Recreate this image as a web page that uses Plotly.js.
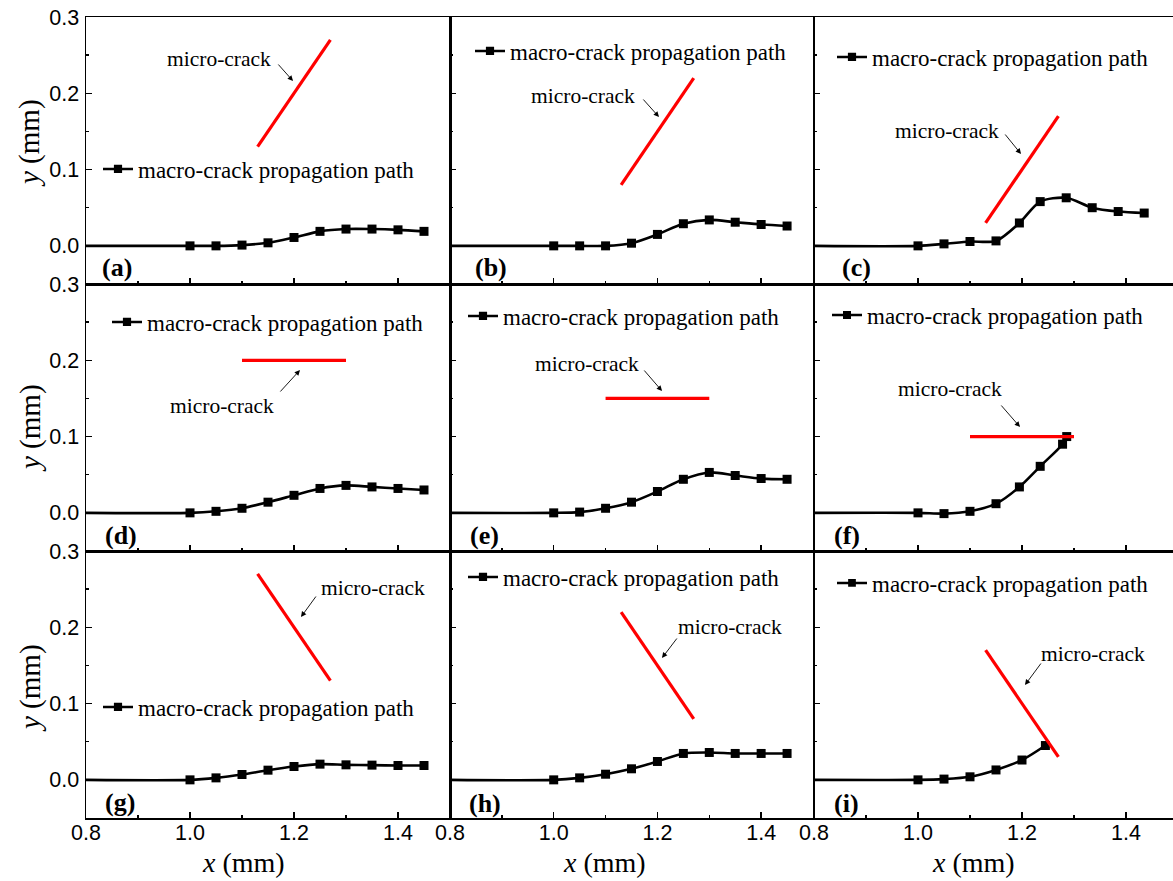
<!DOCTYPE html>
<html>
<head>
<meta charset="utf-8">
<script src="https://cdn.plot.ly/plotly-3.0.1.min.js"></script>
<style>
  html, body { margin: 0; padding: 0; background: #ffffff; }
  #chart { width: 1173px; height: 881px; }
</style>
</head>
<body>
<div id="chart"></div>
<script>
// ---------------- data ----------------
const panelLabels = ["(a)", "(b)", "(c)", "(d)", "(e)", "(f)", "(g)", "(h)", "(i)"];
const legendName = "macro-crack propagation path";
const microLabel = "micro-crack";

const xTickVals = [0.8, 1.0, 1.2, 1.4];
const xTickText = ["0.8", "1.0", "1.2", "1.4"];
const yTickVals = [0, 0.1, 0.2, 0.3];
const yTickText = ["0.0", "0.1", "0.2", "0.3"];

const xStd = [0.8, 1.0, 1.05, 1.1, 1.15, 1.2, 1.25, 1.3, 1.35, 1.4, 1.45];

const pathA_x = xStd;
const pathA_y = [0, 0, 0, 0.001, 0.004, 0.011, 0.019, 0.022, 0.022, 0.021, 0.019];
const pathB_x = xStd;
const pathB_y = [0, 0, 0, 0, 0.0035, 0.015, 0.029, 0.034, 0.031, 0.028, 0.026];
const pathC_x = [0.8, 1.0, 1.05, 1.1, 1.15, 1.195, 1.235, 1.285, 1.335, 1.385, 1.435];
const pathC_y = [0, 0, 0.0026, 0.0057, 0.0065, 0.030, 0.058, 0.063, 0.050, 0.045, 0.043];
const pathD_x = xStd;
const pathD_y = [0, 0, 0.002, 0.006, 0.014, 0.023, 0.032, 0.036, 0.034, 0.032, 0.030];
const pathE_x = xStd;
const pathE_y = [0, 0, 0.001, 0.006, 0.014, 0.028, 0.044, 0.053, 0.049, 0.045, 0.044];
const pathF_x = [0.8, 1.0, 1.05, 1.1, 1.15, 1.195, 1.235, 1.278, 1.286];
const pathF_y = [0, 0, -0.001, 0.002, 0.012, 0.034, 0.061, 0.090, 0.100];
const pathG_x = xStd;
const pathG_y = [0, 0, 0.0026, 0.007, 0.0127, 0.0175, 0.0206, 0.0197, 0.0193, 0.0188, 0.0188];
const pathH_x = xStd;
const pathH_y = [0, 0, 0.0026, 0.0074, 0.0145, 0.0241, 0.0346, 0.0359, 0.0346, 0.0346, 0.0346];
const pathI_x = [0.8, 1.0, 1.05, 1.1, 1.15, 1.2, 1.245];
const pathI_y = [0, 0, 0.001, 0.004, 0.013, 0.026, 0.045];

const crackA_x = [1.13, 1.27], crackA_y = [0.13, 0.27];
const crackB_x = [1.13, 1.27], crackB_y = [0.08, 0.22];
const crackC_x = [1.13, 1.27], crackC_y = [0.03, 0.17];
const crackD_x = [1.1, 1.3],   crackD_y = [0.2, 0.2];
const crackE_x = [1.1, 1.3],   crackE_y = [0.15, 0.15];
const crackF_x = [1.1, 1.3],   crackF_y = [0.1, 0.1];
const crackG_x = [1.13, 1.27], crackG_y = [0.27, 0.13];
const crackH_x = [1.13, 1.27], crackH_y = [0.22, 0.08];
const crackI_x = [1.13, 1.27], crackI_y = [0.17, 0.03];

// ---------------- layout helpers ----------------
const W = 1173, H = 881;
const ML = 86, MR = 0, MT = 17, MB = 63;
const PW = W - ML - MR, PH = H - MT - MB;
const px2x = px => (px - ML) / PW;
const py2y = py => 1 - (py - MT) / PH;

const SERIF = "Liberation Serif, Times New Roman, serif";
const SANS = "Liberation Sans, Arial, sans-serif";

const paths = [
  [pathA_x, pathA_y], [pathB_x, pathB_y], [pathC_x, pathC_y],
  [pathD_x, pathD_y], [pathE_x, pathE_y], [pathF_x, pathF_y],
  [pathG_x, pathG_y], [pathH_x, pathH_y], [pathI_x, pathI_y]
];
const cracks = [
  [crackA_x, crackA_y], [crackB_x, crackB_y], [crackC_x, crackC_y],
  [crackD_x, crackD_y], [crackE_x, crackE_y], [crackF_x, crackF_y],
  [crackG_x, crackG_y], [crackH_x, crackH_y], [crackI_x, crackI_y]
];

// column / row pixel extents
const colPx = [[86, 450], [450, 813], [814, 1173]];
const colRange = [[0.8, 1.5], [0.8, 1.5], [0.8, 0.8 + 359 / 520]];
const rowPx = [[17, 284], [284, 551], [551, 818]];

// annotation pixel positions (per panel)
const legendPos = [[103, 169], [475, 51], [837, 57], [112, 322], [468, 316], [832, 315], [103, 707], [468, 577], [837, 583]];
const microTextPos = [[219, 59], [583, 96], [947, 131], [222, 406], [587, 364], [950, 389], [373, 588], [730, 627], [1093, 654]];
const arrowTail = [[277, 63], [642, 98], [1004, 133], [279, 393], [643, 369], [1000, 404], [317, 595], [678, 637], [1042, 662]];
const arrowHead = [[293, 81], [659, 117], [1021, 154], [300, 370], [662, 391], [1020, 427], [301, 617], [662, 658], [1025, 685]];
const labelPos = [[100, 267], [473, 267], [840, 267], [103, 535], [468, 535], [832, 535], [103, 802], [467, 803], [832, 803]];

const traces = [];
const layout = {
  width: W, height: H,
  margin: {l: ML, r: MR, t: MT, b: MB, pad: 0},
  paper_bgcolor: "#ffffff",
  plot_bgcolor: "#ffffff",
  showlegend: true,
  annotations: []
};

for (let k = 0; k < 9; k++) {
  const r = Math.floor(k / 3), c = k % 3;
  const n = k + 1;
  const xa = n === 1 ? "x" : "x" + n;
  const ya = n === 1 ? "y" : "y" + n;
  const xKey = n === 1 ? "xaxis" : "xaxis" + n;
  const yKey = n === 1 ? "yaxis" : "yaxis" + n;
  const lgKey = n === 1 ? "legend" : "legend" + n;

  const [px0, px1] = colPx[c];
  const [py0, py1] = rowPx[r];

  layout[xKey] = {
    domain: [Math.max(0, px2x(px0)), Math.min(1, px2x(px1))],
    anchor: ya,
    range: colRange[c],
    showgrid: false, zeroline: false,
    showline: true, linecolor: "#000", linewidth: 1.5, mirror: true,
    ticks: "inside", ticklen: 6, tickwidth: 1.5, tickcolor: "#000",
    tickmode: "array", tickvals: xTickVals, ticktext: xTickText,
    showticklabels: r === 2,
    ticklabelstandoff: -5,
    tickfont: {family: SANS, size: 21.5, color: "#000"},
    minor: {tickmode: "array", tickvals: [0.9, 1.1, 1.3], ticks: "inside", ticklen: 3, tickwidth: 1.5, tickcolor: "#000", showgrid: false}
  };
  layout[yKey] = {
    domain: [py2y(py1), py2y(py0)],
    anchor: xa,
    range: [-0.05, 0.3],
    showgrid: false, zeroline: false,
    showline: true, linecolor: "#000", linewidth: 1.5, mirror: c === 2 ? false : true,
    ticks: "inside", ticklen: 6, tickwidth: 1.5, tickcolor: "#000",
    tickmode: "array", tickvals: yTickVals, ticktext: yTickText,
    showticklabels: c === 0,
    ticklabelstandoff: 1,
    tickfont: {family: SANS, size: 21.5, color: "#000"},
    minor: {tickmode: "array", tickvals: [-0.05, 0.05, 0.15, 0.25], ticks: "inside", ticklen: 3, tickwidth: 1.5, tickcolor: "#000", showgrid: false}
  };

  const [mx, my] = paths[k];
  traces.push({
    type: "scatter", mode: "lines+markers",
    x: mx, y: my, xaxis: xa, yaxis: ya,
    name: legendName, legend: lgKey, showlegend: true,
    line: {color: "#000", width: 2.6, shape: "spline", smoothing: 0.8},
    marker: {symbol: "square", color: "#000", opacity: 1, line: {width: 0, color: "#000"},
             size: mx.map((v, i) => i === 0 ? 0 : 9)},
    cliponaxis: true, hoverinfo: "skip"
  });
  const [cx, cy] = cracks[k];
  traces.push({
    type: "scatter", mode: "lines",
    x: cx, y: cy, xaxis: xa, yaxis: ya,
    showlegend: false,
    line: {color: "#ff0000", width: 3.2},
    hoverinfo: "skip"
  });

  layout[lgKey] = {
    x: px2x(legendPos[k][0] - 5), y: py2y(legendPos[k][1]),
    xref: "paper", yref: "paper",
    xanchor: "left", yanchor: "middle",
    bgcolor: "rgba(0,0,0,0)", borderwidth: 0,
    font: {family: SERIF, size: 23, color: "#000"},
    itemwidth: 30, tracegroupgap: 0
  };

  layout.annotations.push({
    xref: "paper", yref: "paper",
    x: px2x(microTextPos[k][0]), y: py2y(microTextPos[k][1]),
    xanchor: "center", yanchor: "middle",
    text: microLabel, showarrow: false,
    font: {family: SERIF, size: 21.5, color: "#000"}
  });
  layout.annotations.push({
    xref: "paper", yref: "paper",
    x: px2x(arrowHead[k][0]), y: py2y(arrowHead[k][1]),
    ax: arrowTail[k][0] - arrowHead[k][0], ay: arrowTail[k][1] - arrowHead[k][1],
    axref: "pixel", ayref: "pixel",
    text: "", showarrow: true,
    arrowhead: 2, arrowsize: 1.2, arrowwidth: 0.9, arrowcolor: "#000"
  });
  layout.annotations.push({
    xref: "paper", yref: "paper",
    x: px2x(labelPos[k][0]), y: py2y(labelPos[k][1]),
    xanchor: "left", yanchor: "middle",
    text: "<b>" + panelLabels[k] + "</b>", showarrow: false,
    font: {family: SERIF, size: 26, color: "#000"}
  });
}

// axis titles
const xTitlePos = [[243, 863], [604, 863], [973, 863]];
const yTitlePos = [[30, 143], [30, 428], [30, 688]];
xTitlePos.forEach(p => layout.annotations.push({
  xref: "paper", yref: "paper", x: px2x(p[0]), y: py2y(p[1]),
  xanchor: "center", yanchor: "middle", showarrow: false,
  text: "<i>x</i> (mm)", font: {family: SERIF, size: 28, color: "#000"}
}));
yTitlePos.forEach(p => layout.annotations.push({
  xref: "paper", yref: "paper", x: px2x(p[0]), y: py2y(p[1]),
  xanchor: "center", yanchor: "middle", showarrow: false, textangle: -90,
  text: "<i>y</i> (mm)", font: {family: SERIF, size: 29, color: "#000"}
}));

Plotly.newPlot("chart", traces, layout, {staticPlot: true, displayModeBar: false});
</script>
</body>
</html>
